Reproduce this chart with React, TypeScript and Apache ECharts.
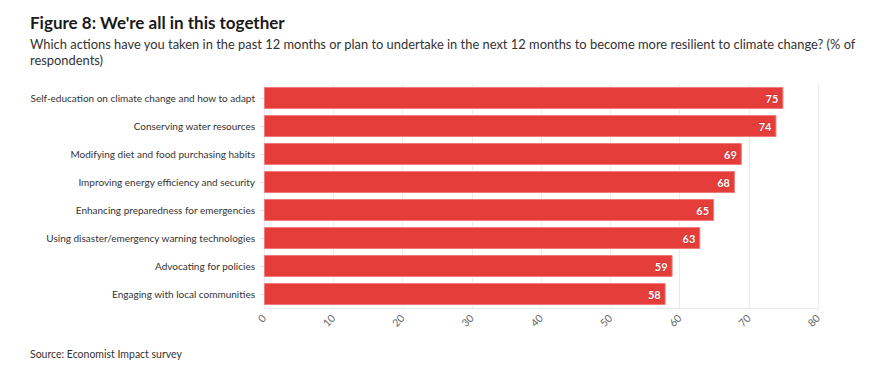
import React, { useEffect, useRef } from "react";
import * as echarts from "echarts";

const categories = [
  "Self-education on climate change and how to adapt",
  "Conserving water resources",
  "Modifying diet and food purchasing habits",
  "Improving energy efficiency and security",
  "Enhancing preparedness for emergencies",
  "Using disaster/emergency warning technologies",
  "Advocating for policies",
  "Engaging with local communities",
];
const values = [75, 74, 69, 68, 65, 63, 59, 58];

const FONT = "Lato, 'Noto Sans', sans-serif";

export default function App() {
  const ref = useRef<HTMLDivElement>(null);
  useEffect(() => {
    if (!ref.current) return;
    const chart = echarts.init(ref.current, null, { renderer: "svg" });
    chart.setOption({
      animation: false,
      backgroundColor: "#ffffff",
      textStyle: { fontFamily: FONT },
      title: [
        {
          text: "Figure 8: We're all in this together",
          left: 30,
          top: 14,
          padding: 0,
          textStyle: { fontSize: 17, fontWeight: "bold", color: "#1a1a1a", fontFamily: FONT },
        },
        {
          text:
            "Which actions have you taken in the past 12 months or plan to undertake in the next 12 months to become more resilient to climate change? (% of\nrespondents)",
          left: 30,
          top: 36,
          padding: 0,
          textStyle: { fontSize: 12.9, fontWeight: "normal", color: "#333", lineHeight: 16, fontFamily: FONT },
        },
        {
          text: "Source: Economist Impact survey",
          left: 30,
          top: 348,
          padding: 0,
          textStyle: { fontSize: 10.5, fontWeight: "normal", color: "#333", fontFamily: FONT },
        },
      ],
      grid: { left: 264, right: 68, top: 84, bottom: 59, containLabel: false },
      xAxis: {
        type: "value",
        min: 0,
        max: 80,
        interval: 10,
        axisLine: { show: true, lineStyle: { color: "#e8e8e8" } },
        axisTick: { show: false },
        splitLine: { show: true, lineStyle: { color: "#ebebeb" } },
        axisLabel: { rotate: 45, color: "#666", fontSize: 10.5, margin: 8, fontFamily: FONT },
      },
      yAxis: {
        type: "category",
        data: categories,
        inverse: true,
        axisLine: { show: false },
        axisTick: { show: true, length: 4, lineStyle: { color: "#dddddd" }, alignWithLabel: true },
        axisLabel: { color: "#333", fontSize: 10, margin: 9, fontFamily: FONT },
      },
      series: [
        {
          type: "bar",
          data: values,
          barWidth: 22,
          itemStyle: { color: "#E53D3A", borderColor: "#F07A77", borderWidth: 1 },
          label: {
            show: true,
            position: "insideRight",
            color: "#fff",
            fontWeight: "bold",
            fontSize: 11,
            distance: 5,
            fontFamily: FONT,
            textBorderColor: "#c42a27",
            textBorderWidth: 1,
          },
        },
      ],
    });
    return () => chart.dispose();
  }, []);
  return <div ref={ref} style={{ position: "fixed", left: 0, top: 0, width: 886, height: 367 }} />;
}
